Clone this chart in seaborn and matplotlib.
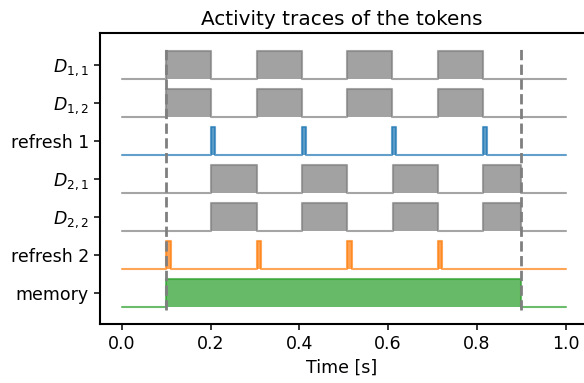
import numpy as np
import pandas as pd
import matplotlib
matplotlib.use("Agg")
import matplotlib.pyplot as plt
import seaborn as sns

sns.set_style("ticks", {"axes.edgecolor": "black", "text.color": "black",
                        "xtick.color": "black", "ytick.color": "black",
                        "axes.labelcolor": "black"})
plt.rcParams["font.family"] = ["DejaVu Sans"]
plt.rcParams["mathtext.fontset"] = "dejavusans"

# Token activity intervals (start, end) in seconds
d1_intervals = [(0.100, 0.200), (0.304, 0.405), (0.508, 0.609), (0.712, 0.813)]
r1_intervals = [(0.200, 0.210), (0.405, 0.414), (0.609, 0.618), (0.813, 0.822)]
d2_intervals = [(0.202, 0.304), (0.406, 0.508), (0.610, 0.712), (0.814, 0.900)]
r2_intervals = [(0.100, 0.110), (0.304, 0.314), (0.508, 0.518), (0.712, 0.722)]
mem_intervals = [(0.100, 0.900)]

row_labels = [r"$D_{1,1}$", r"$D_{1,2}$", "refresh 1", r"$D_{2,1}$",
              r"$D_{2,2}$", "refresh 2", "memory"]
row_intervals = [d1_intervals, d1_intervals, r1_intervals, d2_intervals,
                 d2_intervals, r2_intervals, mem_intervals]
row_colors = ["tab:gray", "tab:gray", "tab:blue", "tab:gray",
              "tab:gray", "tab:orange", "tab:green"]

t_start, t_stop = 0.0, 1.0
stim_on, stim_off = 0.1, 0.9
height = 0.75


def step_trace(intervals):
    t = [t_start]
    v = [0.0]
    for a, b in intervals:
        t += [a, a, b, b]
        v += [0.0, 1.0, 1.0, 0.0]
    t.append(t_stop)
    v.append(0.0)
    return np.array(t), np.array(v)


fig = plt.figure(figsize=(5.84, 3.83), dpi=100)
# the axes box runs to the right edge of the canvas
ax = fig.add_axes([0.1712, 0.154, 0.8288, 0.7598])

n = len(row_labels)
for i, (label, ivs, col) in enumerate(zip(row_labels, row_intervals, row_colors)):
    offset = (n - 1 - i) - height / 2
    t, v = step_trace(ivs)
    y = offset + height * v
    df = pd.DataFrame({"t": t, "y": y})
    sns.lineplot(data=df, x="t", y="y", ax=ax, color=col, alpha=0.7,
                 lw=1.5, sort=False, estimator=None)
    ax.fill_between(t, offset, y, color=col, alpha=0.72, lw=0)

for xv in (stim_on, stim_off):
    ax.vlines(xv, -0.45, n - 0.5, colors="tab:gray", linestyles="--", lw=2)

ax.set_yticks(np.arange(n)[::-1])
ax.set_yticklabels(row_labels)
ax.set_xticks(np.arange(0, 1.01, 0.2))
ax.set_xlim(-0.049, 1.041)
ax.set_ylim(-0.82, n - 1 + 0.84)
for side in ("top", "bottom", "left"):
    ax.spines[side].set_visible(True)
    ax.spines[side].set_linewidth(1.5)
    ax.spines[side].set_color("black")
ax.spines["right"].set_visible(False)
ax.tick_params(labelsize=12.5, length=4.5, width=1.1, color="black")
ax.set_xlabel("Time [s]", fontsize=12.5)
ax.set_ylabel("")
ax.set_title("Activity traces of the tokens", fontsize=14.4)

fig.savefig("out.png", dpi=100)
